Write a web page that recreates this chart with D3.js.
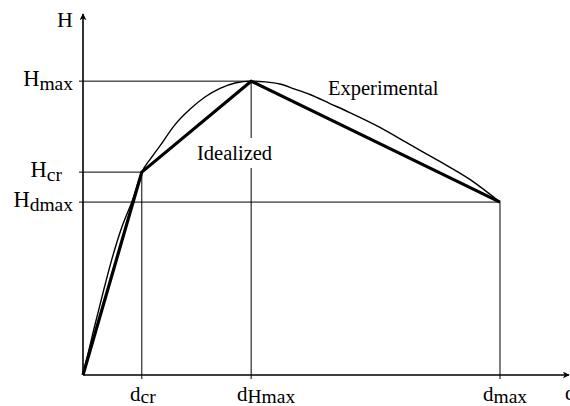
<!DOCTYPE html>
<html>
<head>
<meta charset="utf-8">
<script src="https://cdn.jsdelivr.net/npm/d3@7"></script>
<style>
  body { margin: 0; background: #fff; }
  svg { display: block; }
  text { font-family: "Liberation Serif", "Times New Roman", serif; fill: #000; }
</style>
</head>
<body>
<script>
// characteristic points (arbitrary units, 0-100 on each axis)
var dNames = ["cr", "Hmax", "max"];
var dValues = [12.1, 34.6, 85.8];
var hNames = ["max", "cr", "dmax"];
var hValues = [81.4, 56.2, 47.9];

// experimental curve
var expD = [0, 2.2, 4.1, 5.9, 8.0, 10.2, 12.1,
            14.0, 15.8, 18.9, 22.0, 25.1, 28.2, 31.3, 34.6,
            37.5, 40.5, 43.6, 46.7, 50.8, 54.9, 61.1, 67.3, 73.5, 79.6, 85.8];
var expH = [0, 12.5, 22.7, 31.9, 41.0, 48.5, 56.2,
            60.1, 63.4, 69.3, 73.6, 77.0, 79.4, 80.9, 81.4,
            81.2, 80.6, 79.2, 77.7, 75.2, 72.7, 68.6, 63.8, 59.1, 54.2, 47.9];

// idealized trilinear curve: origin, (dcr,Hcr), (dHmax,Hmax), (dmax,Hdmax)
var idealD = [0, 12.1, 34.6, 85.8];
var idealH = [0, 56.2, 81.4, 47.9];

var w = 570, h = 406;

var svg = d3.select("body").append("svg")
    .attr("width", w)
    .attr("height", h);

var x = d3.scaleLinear().domain([0, 100]).range([83, 569]);
var y = d3.scaleLinear().domain([0, 100]).range([375, 14]);

// arrowhead
svg.append("defs").append("marker")
    .attr("id", "arrow")
    .attr("viewBox", "0 0 10 10")
    .attr("refX", 9).attr("refY", 5)
    .attr("markerWidth", 7).attr("markerHeight", 7)
    .attr("markerUnits", "userSpaceOnUse")
    .attr("orient", "auto")
  .append("path")
    .attr("d", "M0,0 L10,5 L0,10 L3,5 Z")
    .attr("fill", "#000");

// guide lines from axes to the characteristic points
var guides = svg.append("g").attr("stroke", "#000").attr("stroke-width", 1);

// horizontal: H levels to the point they belong to
var hTo = [dValues[1], dValues[0], dValues[2]];
hValues.forEach(function(v, i) {
  guides.append("line")
    .attr("x1", x(0) - 4).attr("x2", x(hTo[i]))
    .attr("y1", y(v)).attr("y2", y(v));
});

// vertical: d positions up to their point
var dTo = [hValues[1], hValues[0], hValues[2]];
dValues.forEach(function(v, i) {
  guides.append("line")
    .attr("x1", x(v)).attr("x2", x(v))
    .attr("y1", y(0) + 4).attr("y2", y(dTo[i]));
});

// axes with arrows
svg.append("line")
    .attr("x1", x(0)).attr("y1", y(0))
    .attr("x2", x(0)).attr("y2", y(100))
    .attr("stroke", "#000").attr("stroke-width", 1.6)
    .attr("marker-end", "url(#arrow)");
svg.append("line")
    .attr("x1", x(0)).attr("y1", y(0))
    .attr("x2", x(100)).attr("y2", y(0))
    .attr("stroke", "#000").attr("stroke-width", 1.6)
    .attr("marker-end", "url(#arrow)");

// experimental curve
var expLine = d3.line()
    .x(function(d) { return x(d[0]); })
    .y(function(d) { return y(d[1]); })
    .curve(d3.curveMonotoneX);

svg.append("path")
    .datum(d3.zip(expD, expH))
    .attr("d", expLine)
    .attr("fill", "none")
    .attr("stroke", "#000")
    .attr("stroke-width", 1.4);

// idealized polyline
var idealLine = d3.line()
    .x(function(d) { return x(d[0]); })
    .y(function(d) { return y(d[1]); });

svg.append("path")
    .datum(d3.zip(idealD, idealH))
    .attr("d", idealLine)
    .attr("fill", "none")
    .attr("stroke", "#000")
    .attr("stroke-width", 3.2)
    .attr("stroke-linejoin", "round");

// label helper: main letter with subscript
function label(px, py, main, sub, anchor, size, subSize, subDy) {
  var t = svg.append("text")
      .attr("x", px).attr("y", py)
      .attr("text-anchor", anchor)
      .attr("font-size", size);
  t.append("tspan").text(main);
  if (sub) {
    t.append("tspan")
      .attr("dy", subDy)
      .attr("font-size", subSize)
      .text(sub);
  }
  return t;
}

// y-axis labels
label(x(0) - 10, y(100) + 13, "H", null, "end", 22);
var hEnd = [73, 62, 73];
hValues.forEach(function(v, i) {
  label(hEnd[i], y(v) + 5, "H", hNames[i], "end", 22.5, 19.5, 4);
});

// x-axis labels
var dStart = [130, 237, 483];
dValues.forEach(function(v, i) {
  label(dStart[i], 401, "d", dNames[i], "start", 21, 19.5, 2);
});
label(565, 400, "d", null, "start", 21);

// curve names
label(328, 95, "Experimental", null, "start", 20.5);
var ideal = label(197, 160, "Idealized", null, "start", 20.5);
var bb = ideal.node().getBBox();
svg.insert("rect", function() { return ideal.node(); })
    .attr("x", bb.x - 2).attr("y", bb.y - 4)
    .attr("width", bb.width + 4).attr("height", bb.height + 8)
    .attr("fill", "#fff");
</script>
</body>
</html>
